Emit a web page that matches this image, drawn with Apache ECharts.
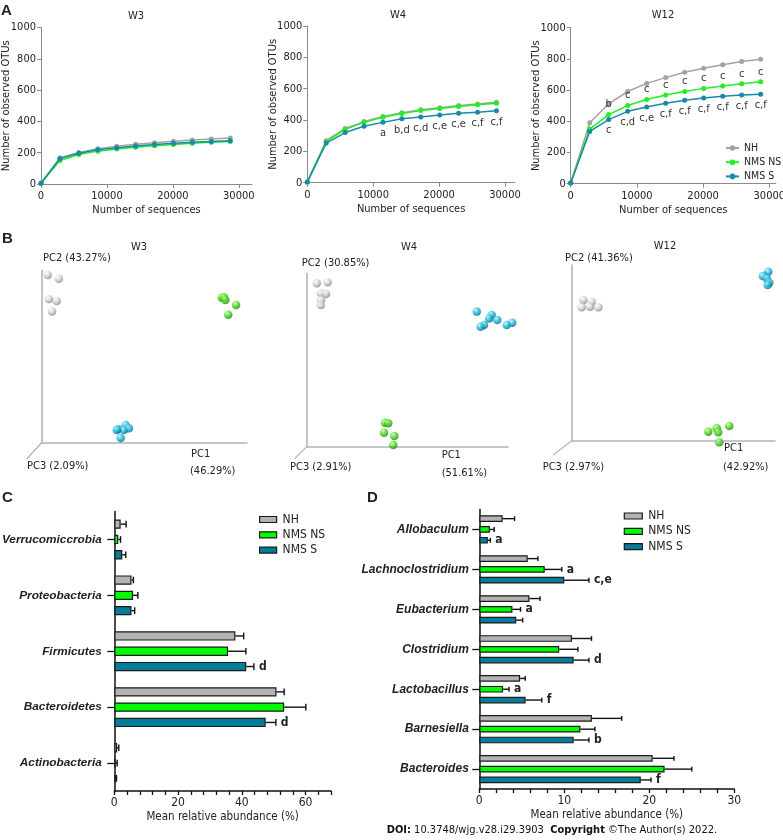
<!DOCTYPE html>
<html><head><meta charset="utf-8">
<script src="https://cdn.jsdelivr.net/npm/echarts/dist/echarts.min.js"></script>
<style>html,body{margin:0;padding:0;background:#fff}#c{width:783px;height:840px}</style>
</head><body><div id="c"></div><script>
// ---------------- DATA ----------------
const groups = ['NH', 'NMS NS', 'NMS S'];
// Panel A: rarefaction curves
const seqDepth = [0, 2870, 5740, 8610, 11480, 14350, 17220, 20090, 22960, 25830, 28700];
const w3_NH  = [5, 168, 202, 226, 242, 254, 264, 273, 281, 288, 294];
const w3_NS  = [5, 150, 189, 210, 224, 235, 245, 253, 260, 266, 271];
const w3_S   = [5, 162, 197, 219, 232, 243, 252, 260, 266, 272, 277];
const w4_NH  = [5, 268, 346, 390, 422, 447, 465, 478, 492, 503, 514];
const w4_NS  = [5, 262, 340, 385, 417, 442, 460, 473, 487, 498, 507];
const w4_S   = [5, 253, 320, 360, 385, 408, 420, 432, 443, 450, 459];
const w12_NH = [5, 391, 512, 591, 643, 680, 714, 740, 763, 783, 798];
const w12_NS = [5, 350, 443, 501, 540, 568, 591, 611, 626, 641, 654];
const w12_S  = [5, 335, 411, 464, 492, 516, 535, 550, 561, 568, 574];
const w4_sigS   = ['', '', '', '', 'a', 'b,d', 'c,d', 'c,e', 'c,e', 'c,f', 'c,f'];
const w12_sigNS = ['', '', 'b', 'c', 'c', 'c', 'c', 'c', 'c', 'c', 'c'];
const w12_sigS  = ['', '', 'c', 'c,d', 'c,e', 'c,f', 'c,f', 'c,f', 'c,f', 'c,f', 'c,f'];
const seqTicks = [0, 10000, 20000, 30000];

// Panel B: PCoA scores (relative units along drawn PC1 / PC2 axes)
const pcoaW3_NH  = [[3.1,97.1],[8.5,94.9],[3.7,83.2],[7.5,82.1],[5.2,76.0]];
const pcoaW3_NS  = [[87.7,84.0],[88.8,84.3],[89.5,82.7],[94.7,79.8],[90.9,74.2]];
const pcoaW3_S   = [[37.4,8.1],[41.0,10.4],[40.2,7.5],[42.6,8.5],[38.6,2.9],[36.7,7.5]];
const pcoaW4_NH  = [[5.0,94.2],[10.4,94.8],[7.1,88.5],[9.6,88.1],[7.1,84.6],[7.0,81.7]];
const pcoaW4_NS  = [[38.9,13.8],[40.5,13.5],[38.4,8.1],[43.5,6.2],[43.0,1.0]];
const pcoaW4_S   = [[84.5,77.9],[91.9,76.0],[90.7,74.0],[94.7,73.1],[88.1,70.2],[86.4,69.2],[99.4,70.2],[102.1,71.5]];
const pcoaW12_NH = [[5.7,80.1],[9.8,79.1],[4.9,75.9],[9.0,76.3],[13.1,75.9]];
const pcoaW12_NS = [[67.2,5.1],[71.3,7.1],[72.1,4.8],[77.5,8.4],[72.6,-0.9]];
const pcoaW12_S  = [[96.7,96.2],[94.0,93.7],[95.9,92.4],[97.2,89.9],[96.4,88.6]];
const pcLabels = {
  W3:  {pc1:'(46.29%)', pc2:'PC2 (43.27%)', pc3:'PC3 (2.09%)'},
  W4:  {pc1:'(51.61%)', pc2:'PC2 (30.85%)', pc3:'PC3 (2.91%)'},
  W12: {pc1:'(42.92%)', pc2:'PC2 (41.36%)', pc3:'PC3 (2.97%)'}
};

// Panel C: phyla
const phylaCats   = ['Verrucomiccrobia', 'Proteobacteria', 'Firmicutes', 'Bacteroidetes', 'Actinobacteria'];
const phyla_NH    = [2.0, 5.4, 38.0, 50.9, 0.9];
const phyla_NHerr = [1.7, 0.6, 2.6, 2.4, 0.5];
const phyla_NS    = [1.25, 5.9, 35.7, 53.3, 0.4];
const phyla_NSerr = [0.7, 1.5, 5.6, 6.8, 0.5];
const phyla_S     = [2.5, 5.4, 41.4, 47.5, 0.3];
const phyla_Serr  = [1.1, 1.0, 2.4, 3.2, 0.4];
const phyla_Ssig  = ['', '', 'd', 'd', ''];

// Panel D: genera
const genusCats   = ['Allobaculum', 'Lachnoclostridium', 'Eubacterium', 'Clostridium', 'Lactobacillus', 'Barnesiella', 'Bacteroides'];
const genus_NH    = [2.75, 5.7, 5.9, 10.9, 4.8, 13.25, 20.4];
const genus_NHerr = [1.4, 1.2, 1.25, 2.3, 0.6, 3.5, 2.5];
const genus_NS    = [1.25, 7.7, 3.9, 9.4, 2.8, 11.9, 21.8];
const genus_NSerr = [0.5, 2.0, 0.95, 2.2, 0.7, 1.7, 3.2];
const genus_NSsig = ['', 'a', 'a', '', 'a', '', ''];
const genus_S     = [1.0, 10.0, 4.35, 11.1, 5.45, 11.1, 19.0];
const genus_Serr  = [0.3, 2.9, 0.75, 1.8, 1.9, 1.8, 1.2];
const genus_Ssig  = ['a', 'c,e', '', 'd', 'f', 'b', 'f'];

// ---------------- STYLE / LAYOUT ----------------
const FONT = 'Tahoma, "DejaVu Sans Condensed", "DejaVu Sans", sans-serif';
const LFONT = '"Liberation Sans", Arial, sans-serif';
const lineColors = ['#a3a3a3', '#22ee22', '#1a88a8'];
const barColors = ['#b3b3b3', '#00ff00', '#037d99'];
const plain = v => String(v);

const gridsA = [
  {left: 41, top: 27.5, width: 211, height: 156.5, xMax: 32000},
  {left: 307.3, top: 26, width: 207.6, height: 156.7, xMax: 31500},
  {left: 570.7, top: 27.7, width: 205.2, height: 156, xMax: 31000}
];
const gridsB = [
  {left: 41.3, top: 270, width: 205.7, height: 173},
  {left: 306.7, top: 273.3, width: 201.3, height: 173.4},
  {left: 571.7, top: 265, width: 203.3, height: 175.7}
];
const gridC = {left: 114.3, top: 511.5, width: 216.7, height: 279.5};
const gridD = {left: 479.3, top: 509.5, width: 255, height: 279.6};

const grids = [], xAxes = [], yAxes = [], series = [];
const noBounds = {outerBoundsMode: 'none', containLabel: false};

// ----- Panel A -----
const aData = [[w3_NH, w3_NS, w3_S], [w4_NH, w4_NS, w4_S], [w12_NH, w12_NS, w12_S]];
const aSig = [[null, null, null], [null, null, w4_sigS], [null, w12_sigNS, w12_sigS]];
gridsA.forEach((g, gi) => {
  grids.push(Object.assign({left: g.left, top: g.top, width: g.width, height: g.height}, noBounds));
  xAxes.push({type: 'value', gridIndex: gi, min: 0, max: g.xMax, interval: 10000,
    name: 'Number of sequences', nameLocation: 'middle', nameGap: 21, nameMoveOverlap: false,
    nameTextStyle: {fontFamily: FONT, fontSize: 11, color: '#222'},
    axisLine: {show: true, onZero: false, lineStyle: {color: '#8a8a8a', width: 1}},
    axisTick: {show: true, length: 4, customValues: seqTicks, lineStyle: {color: '#8a8a8a'}},
    axisLabel: {show: true, customValues: seqTicks, formatter: plain, margin: 7, fontFamily: FONT, fontSize: 11, color: '#222'},
    splitLine: {show: false}});
  yAxes.push({type: 'value', gridIndex: gi, min: 0, max: 1000, interval: 200,
    name: 'Number of observed OTUs', nameLocation: 'middle', nameGap: 29, nameMoveOverlap: false,
    nameTextStyle: {fontFamily: FONT, fontSize: 11, color: '#222'},
    axisLine: {show: true, lineStyle: {color: '#8a8a8a', width: 1}},
    axisTick: {show: true, length: 4, lineStyle: {color: '#8a8a8a'}},
    axisLabel: {margin: 5, formatter: plain, fontFamily: FONT, fontSize: 11, color: '#222'},
    splitLine: {show: false}});
  groups.forEach((name, k) => {
    const sig = aSig[gi][k];
    series.push({type: 'line', name: name, xAxisIndex: gi, yAxisIndex: gi,
      data: seqDepth.map((x, i) => [x, aData[gi][k][i]]),
      symbol: 'circle', symbolSize: 5, showAllSymbol: true,
      lineStyle: {width: 1.5, color: lineColors[k]}, itemStyle: {color: lineColors[k]},
      label: sig ? {show: true, position: (k === 2 ? 'bottom' : 'top'), distance: (k === 2 ? 3 : 2),
        formatter: p => sig[p.dataIndex], fontFamily: FONT, fontSize: 11, color: '#333'} : {show: false},
      emphasis: {disabled: true}, z: 3 + k});
  });
});

// ----- Panel B -----
function sphere(light, mid, dark) {
  return {type: 'radial', x: 0.36, y: 0.3, r: 0.75,
    colorStops: [{offset: 0, color: light}, {offset: 0.5, color: mid}, {offset: 1, color: dark}]};
}
const sphereColors = [sphere('#ffffff', '#cfcfcf', '#7c7c7c'), sphere('#c8ff9a', '#46d81e', '#1f7c08'), sphere('#b8f2ff', '#1cb6dc', '#06657f')];
const bData = [[pcoaW3_NH, pcoaW3_NS, pcoaW3_S], [pcoaW4_NH, pcoaW4_NS, pcoaW4_S], [pcoaW12_NH, pcoaW12_NS, pcoaW12_S]];
gridsB.forEach((g, j) => {
  const gi = 3 + j;
  grids.push(Object.assign({left: g.left, top: g.top, width: g.width, height: g.height}, noBounds));
  const ax = {type: 'value', gridIndex: gi, min: 0, max: 100,
    axisLine: {show: true, onZero: false, lineStyle: {color: '#b4b4b4', width: 1.6}},
    axisTick: {show: false}, axisLabel: {show: false}, splitLine: {show: false}};
  xAxes.push(Object.assign({}, ax));
  yAxes.push(Object.assign({}, ax));
  groups.forEach((name, k) => {
    series.push({type: 'scatter', name: 'pcoa ' + name, xAxisIndex: gi, yAxisIndex: gi,
      data: bData[j][k], symbol: 'circle', symbolSize: 8.5, clip: false,
      itemStyle: {color: sphereColors[k], borderWidth: 0}, emphasis: {disabled: true}, z: 4});
  });
});

// ----- Panels C and D -----
function barPanel(gi, g, cats, vals, errs, sigs, xMax, interval, labelEvery, barW, gap, labelMargin, catFont) {
  grids.push(Object.assign({left: g.left, top: g.top, width: g.width, height: g.height}, noBounds));
  xAxes.push({type: 'value', gridIndex: gi, min: 0, max: xMax, interval: interval,
    name: 'Mean relative abundance (%)', nameLocation: 'middle', nameGap: 20, nameMoveOverlap: false,
    nameTextStyle: {fontFamily: FONT, fontSize: 11.5, color: '#222'},
    axisLine: {show: true, onZero: false, lineStyle: {color: '#111', width: 1.5}},
    axisTick: {show: true, length: 4, lineStyle: {color: '#111', width: 1.3}},
    axisLabel: {margin: 6, fontFamily: FONT, fontSize: 12, color: '#222',
      formatter: v => (v % labelEvery === 0 ? String(v) : '')},
    splitLine: {show: false}});
  yAxes.push({type: 'category', gridIndex: gi, data: cats, inverse: true,
    axisLine: {show: true, lineStyle: {color: '#111', width: 1.5}},
    axisTick: {show: true, alignWithLabel: true, length: 7, lineStyle: {color: '#111', width: 1.3}},
    axisLabel: {margin: labelMargin, fontFamily: LFONT, fontSize: catFont, fontWeight: 'bold', fontStyle: 'italic', color: '#222'},
    splitLine: {show: false}});
  groups.forEach((name, k) => {
    series.push({type: 'bar', name: name, xAxisIndex: gi, yAxisIndex: gi, data: vals[k],
      barWidth: barW, barGap: (gap / barW * 100) + '%',
      itemStyle: {color: barColors[k], borderColor: '#1a1a1a', borderWidth: 1.2},
      emphasis: {disabled: true}, z: 2});
  });
  groups.forEach((name, k) => {
    const offset = (k - 1) * (barW + gap);
    const sig = sigs[k];
    series.push({type: 'custom', name: 'err ' + name, xAxisIndex: gi, yAxisIndex: gi,
      data: vals[k].map((v, i) => [v, i, errs[k][i]]), encode: {x: 0, y: 1}, z: 5, silent: true,
      renderItem(params, api) {
        const v = api.value(0), c = api.value(1), e = api.value(2);
        const p0 = api.coord([v, c]), p1 = api.coord([v + e, c]);
        const y = p0[1] + offset, cap = barW * 0.36;
        const ch = [
          {type: 'line', shape: {x1: p0[0], y1: y, x2: p1[0], y2: y}, style: {stroke: '#111', lineWidth: 1.4}},
          {type: 'line', shape: {x1: p1[0], y1: y - cap, x2: p1[0], y2: y + cap}, style: {stroke: '#111', lineWidth: 1.4}}
        ];
        const s = sig ? sig[params.dataIndex] : '';
        if (s) ch.push({type: 'text', style: {text: s, x: p1[0] + 5, y: y, align: 'left', verticalAlign: 'middle',
          font: 'bold 12px ' + FONT, fill: '#222'}});
        return {type: 'group', children: ch};
      }});
  });
}
barPanel(6, gridC, phylaCats, [phyla_NH, phyla_NS, phyla_S], [phyla_NHerr, phyla_NSerr, phyla_Serr],
  [null, null, phyla_Ssig], 68, 4, 20, 9.3, 6, 12.5, 11.8);
barPanel(7, gridD, genusCats, [genus_NH, genus_NS, genus_S], [genus_NHerr, genus_NSerr, genus_Serr],
  [null, genus_NSsig, genus_Ssig], 30, 2, 10, 6.7, 4.1, 10.5, 12);

// ---------------- LEGENDS ----------------
const legendRect = (x, y, w) => ({
  orient: 'vertical', left: x, top: y, itemWidth: w, itemHeight: 6, itemGap: 3.3, icon: 'rect',
  selectedMode: false,
  textStyle: {fontFamily: FONT, fontSize: 12, color: '#222', padding: [0, 0, 0, 1]},
  data: groups.map((n, k) => ({name: n, icon: 'rect',
    itemStyle: {color: barColors[k], borderColor: '#1a1a1a', borderWidth: 1.2}}))
});
const legends = [
  {orient: 'vertical', left: 720, top: 137.5, itemWidth: 13, itemHeight: 7, itemGap: 3.2, selectedMode: false,
   textStyle: {fontFamily: FONT, fontSize: 10.5, color: '#222'}, data: groups},
  legendRect(254, 508.5, 17),
  legendRect(618.7, 505, 18)
];

// ---------------- TEXT / DECORATION ----------------
const gtext = (text, x, y, font, align, fill) => ({type: 'text', x: x, y: y, silent: true,
  style: {text: text, font: font, align: align || 'left', verticalAlign: 'middle', fill: fill || '#222'}});
const F11 = '11px ' + FONT;
const graphics = [
  gtext('A', 1, 11, 'bold 15px ' + LFONT), gtext('B', 2, 239, 'bold 15px ' + LFONT),
  gtext('C', 2, 498, 'bold 15px ' + LFONT), gtext('D', 367, 498, 'bold 15px ' + LFONT),
  gtext('W3', 136, 16, F11, 'center'), gtext('W4', 398, 15, F11, 'center'), gtext('W12', 663, 15, F11, 'center'),
  gtext('W3', 139, 247, F11, 'center'), gtext('W4', 409, 247, F11, 'center'), gtext('W12', 665, 246, F11, 'center'),
  gtext(pcLabels.W3.pc2, 43, 258.5, F11), gtext(pcLabels.W4.pc2, 301.7, 263.3, F11), gtext(pcLabels.W12.pc2, 565, 258.3, F11),
  gtext('PC1', 191, 454, F11), gtext(pcLabels.W3.pc1, 190, 470.7, F11),
  gtext('PC1', 441.7, 455, F11), gtext(pcLabels.W4.pc1, 441.7, 472.7, F11),
  gtext('PC1', 724, 448.5, F11), gtext(pcLabels.W12.pc1, 723, 466.7, F11),
  gtext(pcLabels.W3.pc3, 27, 466, F11), gtext(pcLabels.W4.pc3, 290, 466.7, F11), gtext(pcLabels.W12.pc3, 542.7, 467.3, F11),
  {type: 'text', x: 386.7, y: 830, silent: true, style: {
    text: '{b|DOI:} 10.3748/wjg.v28.i29.3903  {b|Copyright} ©The Author(s) 2022.',
    font: '11px ' + FONT, fill: '#111', verticalAlign: 'middle',
    rich: {b: {fontWeight: 'bold', fontFamily: FONT, fontSize: 11, fill: '#111'}}}}
];
// PC3 (depth) axis: short diagonal from each PCoA origin
const pc3Len = [[-14.6, 16], [-12, 12], [-18.4, 14.3]];
gridsB.forEach((g, j) => {
  const ox = g.left, oy = g.top + g.height;
  graphics.push({type: 'line', silent: true, shape: {x1: ox, y1: oy, x2: ox + pc3Len[j][0], y2: oy + pc3Len[j][1]},
    style: {stroke: '#b4b4b4', lineWidth: 1.2}});
});

const chart = echarts.init(document.getElementById('c'), null, {renderer: 'canvas'});
chart.setOption({
  animation: false, backgroundColor: '#fff',
  grid: grids, xAxis: xAxes, yAxis: yAxes, legend: legends, series: series, graphic: graphics
});
</script></body></html>
